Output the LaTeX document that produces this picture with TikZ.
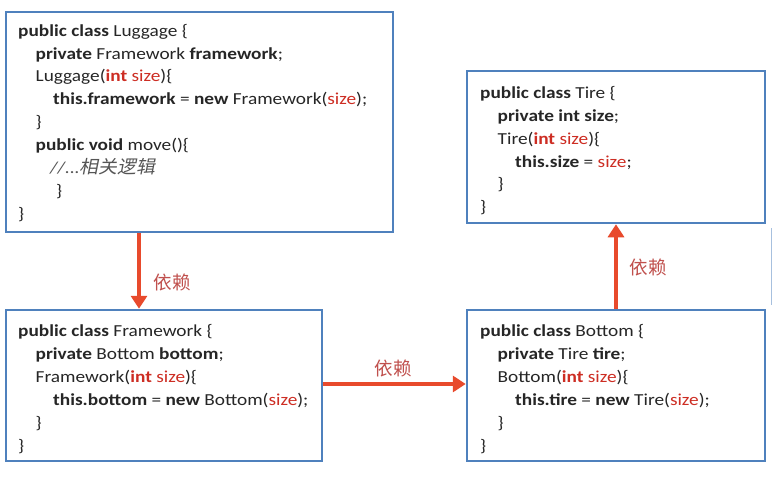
\documentclass[tikz,border=0pt]{standalone}
\usepackage{fontspec}
\setmainfont[FakeStretch=1.15]{Carlito}
\newfontfamily\cjk{Noto Sans CJK SC}
\newfontfamily\cjkit[FakeSlant=0.2,FakeStretch=1.05]{Noto Sans CJK SC}
\usetikzlibrary{arrows.meta}
\definecolor{boxblue}{RGB}{79,129,189}
\definecolor{arrred}{RGB}{232,74,44}
\definecolor{lblred}{RGB}{192,80,77}
\definecolor{kwred}{RGB}{205,45,35}
\definecolor{cmtgray}{RGB}{85,85,85}
\newcommand\kw[1]{\textbf{#1}}
\newcommand\rd[1]{\textcolor{kwred}{#1}}
\newcommand\codeline[2]{\hbox{\hskip#1\relax #2}}
\newcommand\codeblock[1]{\vtop{\baselineskip=23pt\lineskiplimit=-20pt #1}}
\tikzset{
  codebox/.style={draw=boxblue, line width=2.5pt, fill=white, rectangle, inner sep=0pt},
  code/.style={anchor=base west, inner sep=0pt, font=\fontsize{16.8}{23}\selectfont, text=black!85},
  dep/.style={draw=arrred, line width=4.5pt, -{Triangle[width=16pt,length=13pt]}},
  lbl/.style={font=\cjk\fontsize{18.5}{20}\selectfont, text=lblred, inner sep=0pt}
}
\begin{document}
\begin{tikzpicture}[x=1pt,y=-1pt]
\path[use as bounding box, fill=white] (0,0) rectangle (772,479);
% boxes
\node[codebox, minimum width=387pt, minimum height=220pt] (lug) at (199.5,122) {};
\node[codebox, minimum width=316pt, minimum height=151pt] (fw) at (164,385.5) {};
\node[codebox, minimum width=298pt, minimum height=152pt] (tire) at (616,147) {};
\node[codebox, minimum width=298pt, minimum height=151pt] (bot) at (616,385.5) {};
% code
\node[code] (lugtext) at (18,36) {\codeblock{%
  \codeline{0pt}{\kw{public class} Luggage \{}
  \codeline{17.5pt}{\kw{private} Framework \kw{framework};}
  \codeline{17.5pt}{Luggage(\rd{\kw{int} size})\{}
  \codeline{35pt}{\kw{this.framework} = \kw{new} Framework(\rd{size});}
  \codeline{17.5pt}{\}}
  \codeline{17.5pt}{\kw{public void} move()\{}
  \codeline{32pt}{\textcolor{cmtgray}{\itshape //...{\cjkit\fontsize{18}{23}\selectfont 相关逻辑}}}
  \codeline{38pt}{\}}
  \codeline{0pt}{\}}}};
\node[code] (fwtext) at (18,336) {\codeblock{%
  \codeline{0pt}{\kw{public class} Framework \{}
  \codeline{17.5pt}{\kw{private} Bottom \kw{bottom};}
  \codeline{17.5pt}{Framework(\rd{\kw{int} size})\{}
  \codeline{35pt}{\kw{this.bottom} = \kw{new} Bottom(\rd{size});}
  \codeline{17.5pt}{\}}
  \codeline{0pt}{\}}}};
\node[code] (tiretext) at (480,98) {\codeblock{%
  \codeline{0pt}{\kw{public class} Tire \{}
  \codeline{17.5pt}{\kw{private int size};}
  \codeline{17.5pt}{Tire(\rd{\kw{int} size})\{}
  \codeline{35pt}{\kw{this.size} = \rd{size};}
  \codeline{17.5pt}{\}}
  \codeline{0pt}{\}}}};
\node[code] (bottext) at (480,336) {\codeblock{%
  \codeline{0pt}{\kw{public class} Bottom \{}
  \codeline{17.5pt}{\kw{private} Tire \kw{tire};}
  \codeline{17.5pt}{Bottom(\rd{\kw{int} size})\{}
  \codeline{35pt}{\kw{this.tire} = \kw{new} Tire(\rd{size});}
  \codeline{17.5pt}{\}}
  \codeline{0pt}{\}}}};
% connectors
\coordinate (a1) at (139,0);
\coordinate (a2) at (0,384);
\draw[dep] (lug.south -| a1) -- (fw.north -| a1);
\draw[dep] (fw.east |- a2) -- (bot.west |- a2);
\draw[dep] (bot.north) -- (tire.south);
% labels
\node[lbl] (l1) at (172,282) {依赖};
\node[lbl] (l2) at (393,368) {依赖};
\node[lbl] (l3) at (648,267) {依赖};
% edge artefact
\coordinate (e1) at (771,228);
\coordinate (e2) at (771,305);
\draw[boxblue!50, line width=0.8pt] (e1) -- (e2);
\end{tikzpicture}
\end{document}
